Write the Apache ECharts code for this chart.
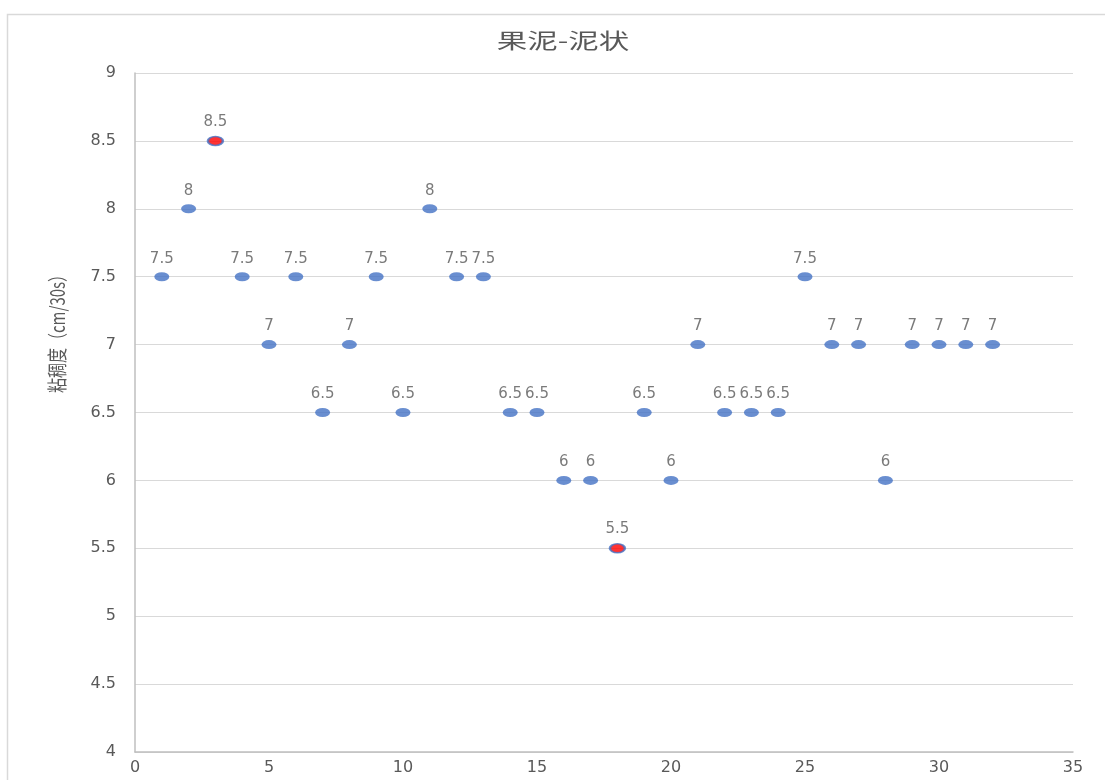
<!DOCTYPE html>
<html>
<head>
<meta charset="utf-8">
<script src="https://cdn.jsdelivr.net/npm/echarts@6/dist/echarts.min.js"></script>
<style>
  html, body { margin: 0; padding: 0; background: #fff; }
  #chart { width: 1105px; height: 780px; }
</style>
</head>
<body>
<div id="chart"></div>
<script>
// Sample index and measured consistency (cm/30s)
const sampleNo = [1, 2, 3, 4, 5, 6, 7, 8, 9, 10, 11, 12, 13, 14, 15, 16,
                  17, 18, 19, 20, 21, 22, 23, 24, 25, 26, 27, 28, 29, 30, 31, 32];
const viscosity = [7.5, 8, 8.5, 7.5, 7, 7.5, 6.5, 7, 7.5, 6.5, 8, 7.5, 7.5, 6.5, 6.5, 6,
                   6, 5.5, 6.5, 6, 7, 6.5, 6.5, 6.5, 7.5, 7, 7, 6, 7, 7, 7, 7];
// Samples marked as extremes (max / min)
const extremeNo = [3, 18];

const chartTitle = '果泥-泥状';
const yAxisName = '粘稠度（cm/30s）';

const points = sampleNo.map((x, i) => {
  const item = { value: [x, viscosity[i]] };
  if (extremeNo.includes(x)) {
    item.itemStyle = { color: '#ff0000', borderColor: '#4472c4', borderWidth: 2 };
  }
  return item;
});

const grey = '#595959';
const font = '"DejaVu Sans", sans-serif';
const cjk = '"Noto Sans CJK SC", sans-serif';

const chart = echarts.init(document.getElementById('chart'));
chart.setOption({
  animation: false,
  backgroundColor: '#fff',
  graphic: [
    {
      type: 'rect',
      shape: { x: 7.5, y: 14.5, width: 1200, height: 900 },
      style: { fill: 'none', stroke: '#d9d9d9', lineWidth: 1.5 },
      silent: true
    },
    {
      // chart title, drawn wide
      type: 'text',
      x: 563,
      y: 40,
      scaleX: 1.45,
      style: {
        text: chartTitle,
        fill: grey,
        fontSize: 21,
        fontFamily: cjk,
        align: 'center',
        verticalAlign: 'middle'
      }
    },
    {
      // vertical axis title
      type: 'text',
      x: 57,
      y: 330,
      rotation: Math.PI / 2,
      scaleY: 1.35,
      style: {
        text: yAxisName,
        fill: grey,
        fontSize: 15,
        fontFamily: cjk,
        align: 'center',
        verticalAlign: 'middle'
      }
    }
  ],
  grid: { left: 135, right: 32, top: 73, bottom: 28, containLabel: false },
  xAxis: {
    type: 'value',
    min: 0,
    max: 35,
    interval: 5,
    axisLine: { show: true, lineStyle: { color: '#bfbfbf', width: 1.5 } },
    axisTick: { show: false },
    splitLine: { show: false },
    axisLabel: { color: grey, fontSize: 16, margin: 8, fontFamily: font }
  },
  yAxis: {
    type: 'value',
    min: 4,
    max: 9,
    interval: 0.5,
    axisLine: { show: true, lineStyle: { color: '#bfbfbf', width: 1.5 } },
    axisTick: { show: false },
    splitLine: { show: true, lineStyle: { color: '#d9d9d9', width: 1 } },
    axisLabel: { color: grey, fontSize: 16, margin: 19, fontFamily: font }
  },
  series: [{
    type: 'scatter',
    data: points,
    symbol: 'circle',
    symbolSize: [15, 9],
    itemStyle: { color: '#4472c4' },
    label: {
      show: true,
      position: 'top',
      distance: 6,
      formatter: p => p.value[1],
      color: grey,
      fontSize: 15,
      fontFamily: font
    }
  }]
});
</script>
</body>
</html>
